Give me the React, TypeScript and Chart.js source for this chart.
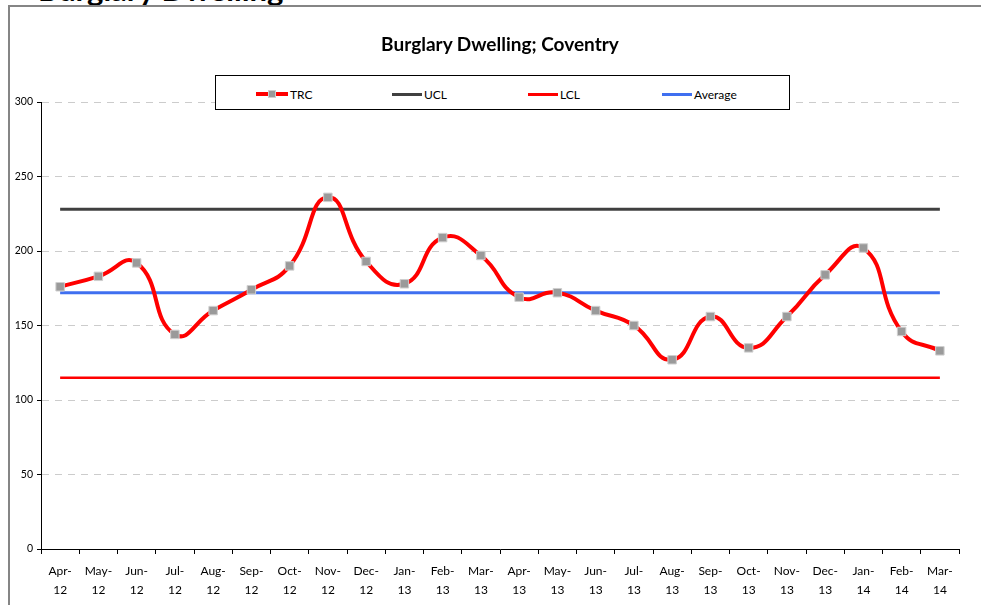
import React, { useEffect, useRef } from "react";
import { Chart, registerables } from "chart.js";

Chart.register(...registerables);

const categories: string[][] = [
  ["Apr-", "12"], ["May-", "12"], ["Jun-", "12"], ["Jul-", "12"], ["Aug-", "12"], ["Sep-", "12"],
  ["Oct-", "12"], ["Nov-", "12"], ["Dec-", "12"], ["Jan-", "13"], ["Feb-", "13"], ["Mar-", "13"],
  ["Apr-", "13"], ["May-", "13"], ["Jun-", "13"], ["Jul-", "13"], ["Aug-", "13"], ["Sep-", "13"],
  ["Oct-", "13"], ["Nov-", "13"], ["Dec-", "13"], ["Jan-", "14"], ["Feb-", "14"], ["Mar-", "14"],
];

const trcValues = [176, 183, 192, 144, 160, 174, 190, 236, 193, 178, 209, 197, 169, 172, 160, 150, 127, 156, 135, 156, 184, 202, 146, 133];
const uclValues = [228, 228, 228, 228, 228, 228, 228, 228, 228, 228, 228, 228, 228, 228, 228, 228, 228, 228, 228, 228, 228, 228, 228, 228];
const lclValues = [115, 115, 115, 115, 115, 115, 115, 115, 115, 115, 115, 115, 115, 115, 115, 115, 115, 115, 115, 115, 115, 115, 115, 115];
const averageValues = [172, 172, 172, 172, 172, 172, 172, 172, 172, 172, 172, 172, 172, 172, 172, 172, 172, 172, 172, 172, 172, 172, 172, 172];

const yMin = 0;
const yMax = 300;
const yStep = 50;

const chartTitle = "Burglary Dwelling; Coventry";
const pageHeading = "Burglary Dwelling";
const seriesNames = ["TRC", "UCL", "LCL", "Average"];

const FONT = "Lato, 'Open Sans', 'DejaVu Sans', sans-serif";
const RED = "#ff0000";
const DARK = "#404040";
const BLUE = "#3f6ff0";

export default function App() {
  const canvasRef = useRef<HTMLCanvasElement | null>(null);

  useEffect(() => {
    if (!canvasRef.current) return;
    const chart = new Chart(canvasRef.current, {
      type: "line",
      data: {
        labels: categories,
        datasets: [
          {
            label: seriesNames[0],
            data: trcValues,
            borderColor: RED,
            borderWidth: 4,
            tension: 0.5,
            pointStyle: "rect",
            pointRadius: 6,
            pointBackgroundColor: "#9a9a9a",
            pointBorderColor: "#cfcfcf",
            pointBorderWidth: 1,
          },
          {
            label: seriesNames[1],
            data: uclValues,
            borderColor: DARK,
            borderWidth: 3,
            pointRadius: 0,
          },
          {
            label: seriesNames[2],
            data: lclValues,
            borderColor: RED,
            borderWidth: 2.5,
            pointRadius: 0,
          },
          {
            label: seriesNames[3],
            data: averageValues,
            borderColor: BLUE,
            borderWidth: 3,
            pointRadius: 0,
          },
        ],
      },
      options: {
        responsive: false,
        animation: false,
        layout: { padding: { top: 102, right: 22, left: 0, bottom: 0 } },
        plugins: {
          legend: { display: false },
          title: { display: false },
          tooltip: { enabled: false },
        },
        scales: {
          x: {
            type: "category",
            offset: true,
            grid: {
              offset: true,
              drawOnChartArea: false,
              drawTicks: true,
              tickLength: 5,
              tickColor: "#000",
            },
            border: { display: true, color: "#000", width: 1 },
            ticks: {
              color: "#000",
              font: { family: FONT, size: 12, lineHeight: 1.55 },
              padding: 8,
              maxRotation: 0,
              autoSkip: false,
            },
            afterFit: (scale: any) => {
              scale.height = 56;
            },
          },
          y: {
            min: yMin,
            max: yMax,
            ticks: {
              stepSize: yStep,
              color: "#000",
              font: { family: FONT, size: 10.5 },
              padding: 4,
            },
            grid: {
              color: "#cccccc",
              lineWidth: 1,
              tickColor: "#000",
              tickLength: 4,
              tickBorderDash: [],
            },
            border: { display: true, color: "#000", width: 1, dash: [7, 6] },
            afterFit: (scale: any) => {
              scale.width = 41;
            },
          },
        },
      },
    } as any);
    return () => chart.destroy();
  }, []);

  const legendItem = (left: number, lineW: number, color: string, thick: number, text: string, marker: boolean) => (
    <div style={{ position: "absolute", left, top: 85, height: 18, display: "flex", alignItems: "center" }}>
      <div style={{ position: "relative", width: lineW, height: thick, background: color }}>
        {marker && (
          <div
            style={{
              position: "absolute",
              left: lineW / 2 - 4,
              top: thick / 2 - 4,
              width: 6,
              height: 6,
              background: "#9a9a9a",
              border: "1px solid #cfcfcf",
            }}
          />
        )}
      </div>
      <span style={{ marginLeft: 2, fontSize: 12, fontFamily: FONT, color: "#000" }}>{text}</span>
    </div>
  );

  return (
    <div style={{ position: "fixed", left: 0, top: 0, width: 981, height: 605, overflow: "hidden", background: "#fff" }}>
      <div
        style={{
          position: "absolute",
          left: 38,
          top: -27,
          fontFamily: FONT,
          fontWeight: 700,
          fontSize: 31,
          lineHeight: "32px",
          whiteSpace: "nowrap",
          color: "#000",
        }}
      >
        {pageHeading}
      </div>
      <div
        style={{
          position: "absolute",
          left: 8,
          top: 5,
          width: 1100,
          height: 800,
          borderLeft: "2px solid #858585",
          borderTop: "2px solid #858585",
          background: "#fff",
        }}
      />
      <canvas ref={canvasRef} width={981} height={605} style={{ position: "absolute", left: 0, top: 0 }} />
      <div
        style={{
          position: "absolute",
          left: 300,
          width: 400,
          top: 32,
          textAlign: "center",
          fontFamily: FONT,
          fontWeight: 700,
          fontSize: 19,
          color: "#000",
        }}
      >
        {chartTitle}
      </div>
      <div
        style={{
          position: "absolute",
          left: 215,
          top: 75,
          width: 573,
          height: 33,
          border: "1px solid #000",
          background: "#fff",
        }}
      />
      {legendItem(256, 32, RED, 4, seriesNames[0], true)}
      {legendItem(392, 30, DARK, 3, seriesNames[1], false)}
      {legendItem(528, 30, RED, 3, seriesNames[2], false)}
      {legendItem(662, 30, BLUE, 3, seriesNames[3], false)}
    </div>
  );
}
